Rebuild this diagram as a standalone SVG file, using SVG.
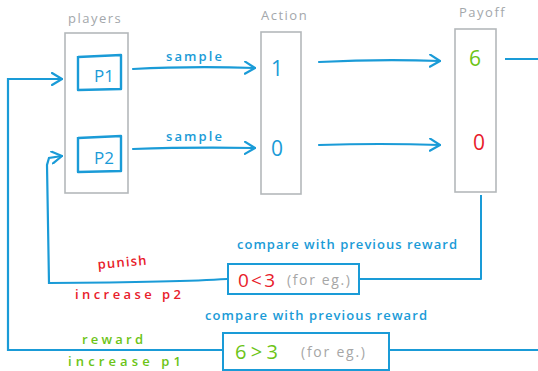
<svg xmlns="http://www.w3.org/2000/svg" width="538" height="371" viewBox="0 0 538 371">
<defs>
<marker id="ah" viewBox="0 0 12 14" refX="11" refY="7" markerWidth="12" markerHeight="14" markerUnits="userSpaceOnUse" orient="auto">
<path d="M1 1 L11 7 L1 13" fill="none" stroke="#1a9bd7" stroke-width="2.2" stroke-linecap="round" stroke-linejoin="round"/>
</marker>
</defs>
<style>
.col{fill:none;stroke:#b4b8bb;stroke-width:1.6}
.inner{fill:none;stroke:#1a9bd7;stroke-width:2.4;stroke-linejoin:round}
.cbox{fill:#fff;stroke:#1a9bd7;stroke-width:2}
.wire{fill:none;stroke:#1a9bd7;stroke-width:2;stroke-linejoin:round}
.arr{fill:none;stroke:#1a9bd7;stroke-width:2.2;stroke-linecap:round;marker-end:url(#ah)}
text{font-family:"Open Sans","Liberation Sans",sans-serif}
.hdr{fill:#a3a7ab;font-size:13px;letter-spacing:1.5px}
.blue{fill:#1a9bd7}
.red{fill:#e8202a}
.green{fill:#6cc416}
.gray{fill:#a6a6a6}
.lbl{font-size:13px;font-weight:600}
.num{font-size:21px}
</style>
<g id="connectors">
<path class="arr" d="M133 69 Q190 66 255 68"/>
<path class="arr" d="M133 149 Q190 147 255 148"/>
<path class="arr" d="M319 62 Q380 59 440 61"/>
<path class="arr" d="M319 145 Q380 143 440 145"/>
<path class="wire" d="M505 59 L538 59"/>
<path class="wire" d="M481 195 L481 279 L359 279"/>
<path class="arr" d="M227 279 Q180 282 49 283 L47 165 L49 158 L62 156"/>
<path class="arr" d="M538 350 L8 350 L8 79 L62 79"/>
</g>
<g id="players">
<rect class="col" x="65" y="33" width="63" height="160"/>
<text class="hdr" x="68" y="23">players</text>
</g>
<g id="p1">
<path class="inner" d="M78 56 L78 90 L121 89 L121 55 L78 57"/>
<text class="blue" x="94" y="82" font-size="17">P1</text>
</g>
<g id="p2">
<path class="inner" d="M78 137 L78 172 L121 171 L121 136 L78 138"/>
<text class="blue" x="94" y="164" font-size="17">P2</text>
</g>
<g id="action">
<rect class="col" x="261" y="32" width="40" height="162"/>
<text class="hdr" x="261" y="20">Action</text>
<text class="blue num" x="271" y="76">1</text>
<text class="blue num" x="271" y="156">0</text>
</g>
<g id="payoff">
<rect class="col" x="455" y="29" width="41" height="163"/>
<text class="hdr" x="459" y="17">Payoff</text>
<text class="green num" x="469" y="66" font-size="23">6</text>
<text class="red num" x="473" y="150" font-size="23">0</text>
</g>
<g id="labels">
<text class="blue lbl" x="166" y="61" textLength="56" lengthAdjust="spacing">sample</text>
<text class="blue lbl" x="166" y="141" textLength="56" lengthAdjust="spacing">sample</text>
<text class="red lbl" x="98" y="269" textLength="49" lengthAdjust="spacing" transform="rotate(-5 98 269)">punish</text>
<text class="red lbl" x="75" y="299" textLength="106" lengthAdjust="spacing">increase  p2</text>
<text class="green lbl" x="82" y="344" textLength="61" lengthAdjust="spacing">reward</text>
<text class="green lbl" x="68" y="366" textLength="113" lengthAdjust="spacing">increase  p1</text>
</g>
<g id="compare-punish">
<text class="blue lbl" x="237" y="249" textLength="220" lengthAdjust="spacing">compare  with previous reward</text>
<rect class="cbox" x="228" y="264" width="131" height="30"/>
<text class="red" x="238" y="287" font-size="19" textLength="37" lengthAdjust="spacing">0&lt;3</text>
<text class="gray" x="287" y="285" font-size="14" textLength="63" lengthAdjust="spacing">(for eg.)</text>
</g>
<g id="compare-reward">
<text class="blue lbl" x="205" y="320" textLength="222" lengthAdjust="spacing">compare  with previous reward</text>
<rect class="cbox" x="223" y="333" width="166" height="37"/>
<text class="green" x="235" y="359" font-size="20" textLength="43" lengthAdjust="spacing">6 &gt; 3</text>
<text class="gray" x="301" y="357" font-size="14" textLength="64" lengthAdjust="spacing">(for eg.)</text>
</g>
</svg>
